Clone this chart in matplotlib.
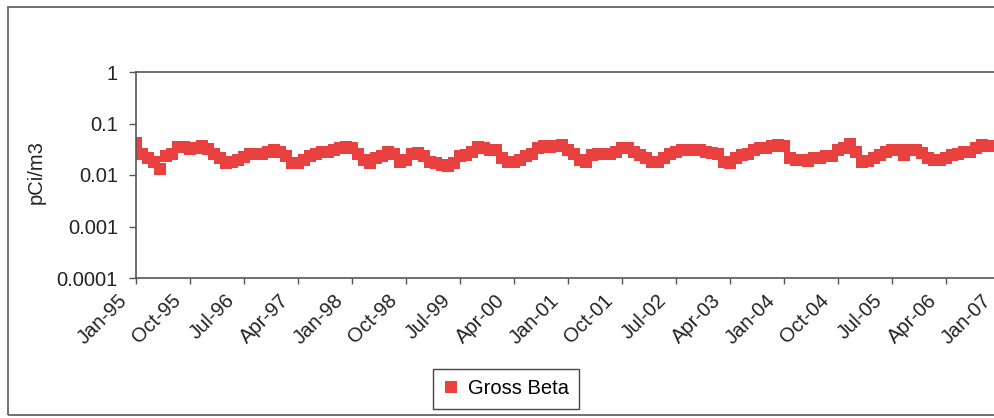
import pandas as pd
import matplotlib
matplotlib.use("Agg")
import matplotlib.pyplot as plt
from matplotlib.patches import Rectangle
from matplotlib.transforms import ScaledTranslation

plt.rcParams["font.family"] = ["Liberation Sans", "DejaVu Sans"]

# monthly gross beta, starting Jan-95 (pCi/m3)
gross_beta = [
    0.042, 0.026, 0.021, 0.018, 0.013, 0.023, 0.026, 0.035, 0.035, 0.032, 0.033, 0.036,
    0.032, 0.026, 0.021, 0.017, 0.018, 0.0195, 0.022, 0.026, 0.026, 0.026, 0.028, 0.030,
    0.028, 0.023, 0.017, 0.017, 0.0195, 0.023, 0.026, 0.028, 0.028, 0.031, 0.033, 0.035,
    0.033, 0.026, 0.0195, 0.017, 0.021, 0.023, 0.028, 0.026, 0.018, 0.0195, 0.026,
    0.027, 0.023, 0.018, 0.017, 0.0156, 0.015, 0.017, 0.023, 0.025, 0.028, 0.035, 0.033,
    0.031, 0.030, 0.021, 0.018, 0.018, 0.0195, 0.023, 0.026, 0.033, 0.036, 0.035,
    0.036, 0.038, 0.031, 0.026, 0.0195, 0.018, 0.025, 0.026, 0.026, 0.026, 0.028, 0.033,
    0.033, 0.028, 0.025, 0.021, 0.018, 0.018, 0.021, 0.026, 0.028, 0.030, 0.030,
    0.030, 0.030, 0.028, 0.027, 0.026, 0.018, 0.017, 0.021, 0.025, 0.026, 0.030, 0.033,
    0.033, 0.036, 0.038, 0.036, 0.021, 0.0195, 0.0195, 0.019, 0.021, 0.021, 0.023, 0.023,
    0.030, 0.033, 0.040, 0.028, 0.018, 0.019, 0.021, 0.024, 0.028, 0.030, 0.030, 0.025,
    0.030, 0.030, 0.027, 0.021, 0.0195, 0.0195, 0.021, 0.025, 0.026, 0.028, 0.028, 0.033,
    0.038, 0.036,
]
dates = pd.date_range("1995-01-01", periods=len(gross_beta), freq="MS")

tick_dates = pd.date_range("1995-01-01", "2007-01-01", freq="9MS")
tick_labels = [d.strftime("%b-%y") for d in tick_dates]
y_ticks = [0.0001, 0.001, 0.01, 0.1, 1]
y_tick_labels = ["0.0001", "0.001", "0.01", "0.1", "1"]

W, H = 994, 418
fig = plt.figure(figsize=(W / 100, H / 100), dpi=100)

x_start = pd.Timestamp("1995-01-01")
x_end = pd.Timestamp("2007-03-01")
px_per_day = 6.0 / 30.44
ax_w = (x_end - x_start).days * px_per_day
ax = fig.add_axes([136 / W, (H - 278) / H, ax_w / W, 206 / H])

red = "#E8413F"
ax.plot(dates, gross_beta, linestyle="none", marker="s", markersize=8.3,
        markerfacecolor=red, markeredgewidth=0, label="Gross Beta")

ax.set_yscale("log")
ax.set_ylim(0.0001, 1)
ax.set_yticks(y_ticks)
ax.set_yticklabels(y_tick_labels)
ax.minorticks_off()
ax.set_xlim(x_start, x_end)
ax.set_xticks(tick_dates)
ax.set_xticklabels(tick_labels, rotation=45, ha="right", va="center",
                   rotation_mode="anchor")

for s in ["top", "left", "bottom"]:
    ax.spines[s].set_color("#555555")
    ax.spines[s].set_linewidth(1.2)
ax.spines["right"].set_visible(False)

ax.tick_params(axis="y", length=5, width=1, color="#555555", pad=8,
               labelsize=14.5, labelcolor="#222222")
ax.tick_params(axis="x", length=4, width=1, color="#555555", pad=10,
               labelsize=14.5, labelcolor="#222222")
shift = ScaledTranslation(-12 / 100, 0, fig.dpi_scale_trans)
for lbl in ax.get_xticklabels():
    lbl.set_transform(lbl.get_transform() + shift)

fig.text(36 / W, 1 - 172 / H, "pCi/m3", rotation=90, ha="center", va="center",
         fontsize=14.5, color="#222222")

leg = fig.legend(loc="center", bbox_to_anchor=(506 / W, 1 - 389 / H),
                 fontsize=14.5, frameon=True, fancybox=False, framealpha=1,
                 edgecolor="#444444", handlelength=0.8, handletextpad=0.4,
                 borderpad=0.5, markerscale=1.0)
leg.get_frame().set_linewidth(1.0)

# outer chart border (right edge cut off in the scan)
fig.patches.append(Rectangle((8 / W, 3 / H), 2, 408 / H, transform=fig.transFigure,
                             fill=False, edgecolor="#666666", linewidth=1.3))

fig.savefig("out.png", dpi=100, facecolor="white")
